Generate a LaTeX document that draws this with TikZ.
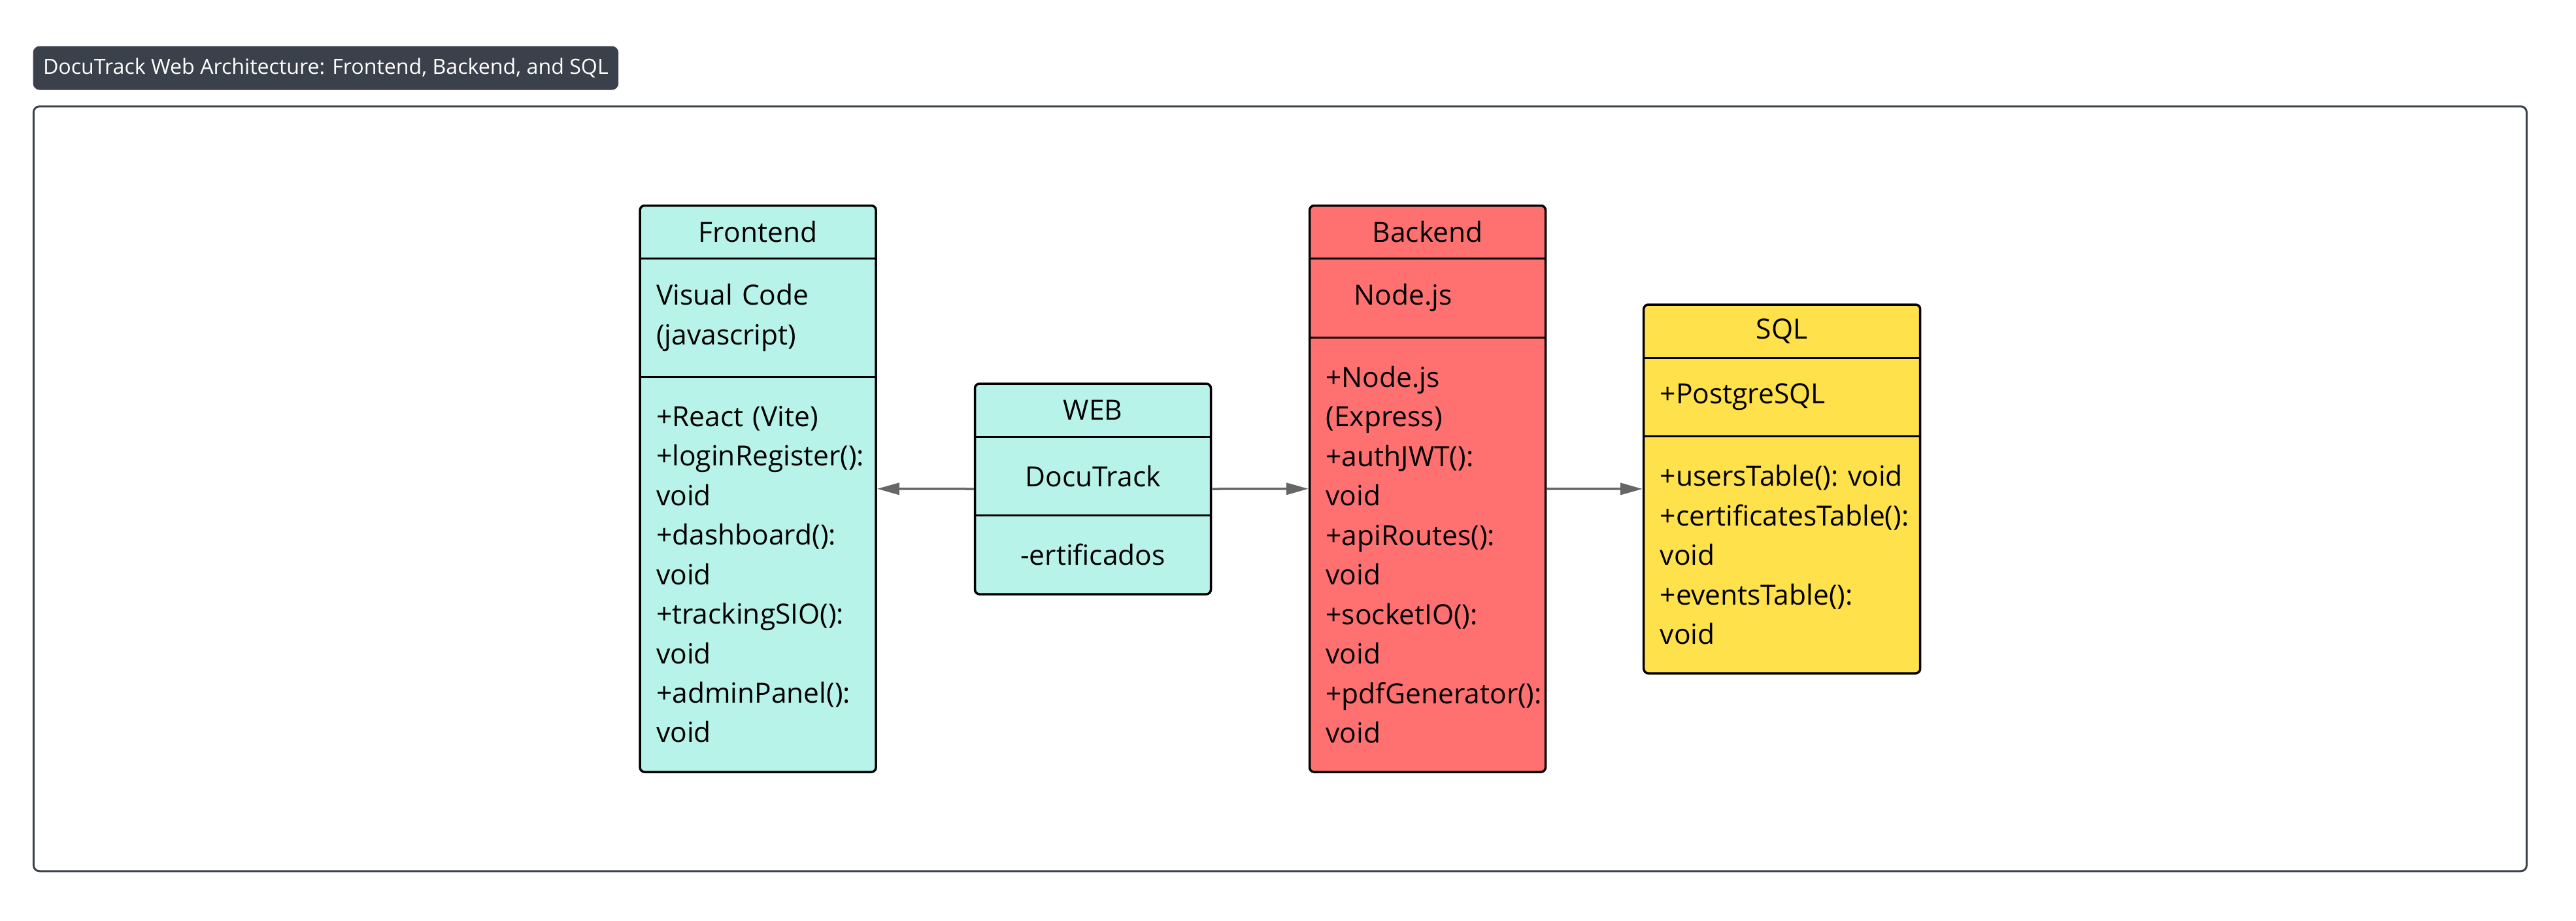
\documentclass[tikz,border=0pt]{standalone}
\usepackage{fontspec}
\setmainfont{Open Sans}
\usetikzlibrary{arrows.meta,positioning,fit,backgrounds}

\definecolor{webcyan}{HTML}{B8F3EA}
\definecolor{backred}{HTML}{FF7171}
\definecolor{sqlyellow}{HTML}{FFE14B}
\definecolor{slate}{HTML}{3B414B}
\definecolor{arrowgray}{HTML}{666666}

\tikzset{
  headpart/.style={minimum width=#1, minimum height=0.81cm, inner sep=0pt, outer sep=0pt, anchor=north},
  leftpart/.style={text width=#1, inner sep=0pt, outer sep=0pt, align=left},
  midpart/.style={text width=#1, inner sep=0pt, outer sep=0pt, align=center},
  classbox/.style={draw=black, line width=0.035cm, rounded corners=0.07cm, inner sep=0pt},
  divider/.style={draw=black, line width=0.03cm},
  flow/.style={draw=arrowgray, line width=0.035cm, -{Triangle[length=0.34cm,width=0.18cm]}}
}

\begin{document}
\begin{tikzpicture}[font=\fontsize{12.1pt}{17.2pt}\selectfont]
                \useasboundingbox (0,0) rectangle (39.41,-14.08);

                \node [headpart=3.61cm] (fe) at (11.596,-3.145) {Frontend};
                \node [leftpart=3.36cm, minimum height=1.81cm,
                        below left=0cm and 0cm of fe.south east]
                                        (fe-attr) {Visual~Code\\(javascript)};
                \node [leftpart=3.36cm, minimum height=6.045cm,
                        below left=0cm and 0cm of fe-attr.south east]
                                        (fe-ops) {+React~(Vite)\\+loginRegister():\\void\\+dashboard():\\void\\+trackingSIO():\\void\\+adminPanel():\\void};

                \node [headpart=3.61cm] (web) at (16.72,-5.87) {WEB};
                \node [midpart=3.11cm, minimum height=1.205cm,
                        below=0cm of web]
                                        (web-attr) {DocuTrack};
                \node [midpart=3.11cm, minimum height=1.205cm,
                        below=0cm of web-attr]
                                        (web-ops) {-ertificados};

                \node [headpart=3.61cm] (be) at (21.84,-3.145) {Backend};
                \node [leftpart=3.36cm, minimum height=1.205cm,
                        below left=0cm and 0cm of be.south east]
                                        (be-attr) {\hspace*{0.43cm}Node.js};
                \node [leftpart=3.36cm, minimum height=6.65cm,
                        below left=0cm and 0cm of be-attr.south east]
                                        (be-ops) {+Node.js\\(Express)\\+authJWT():\\void\\+apiRoutes():\\void\\+socketIO():\\void\\+pdfGenerator():\\void};

                \node [headpart=4.23cm] (sql) at (27.262,-4.66) {SQL};
                \node [leftpart=3.98cm, minimum height=1.205cm,
                        below left=0cm and 0cm of sql.south east]
                                        (sql-attr) {+PostgreSQL};
                \node [leftpart=3.98cm, minimum height=3.625cm,
                        below left=0cm and 0cm of sql-attr.south east]
                                        (sql-ops) {+usersTable():~void\\+certificatesTable():\\void\\+eventsTable():\\void};

                \begin{scope}[on background layer]
                \node [classbox, fill=webcyan, fit=(fe)(fe-attr)(fe-ops)] (fe-box) {};
                \node [classbox, fill=webcyan, fit=(web)(web-attr)(web-ops)] (web-box) {};
                \node [classbox, fill=backred, fit=(be)(be-attr)(be-ops)] (be-box) {};
                \node [classbox, fill=sqlyellow, fit=(sql)(sql-attr)(sql-ops)] (sql-box) {};
                \node [draw=slate, line width=0.03cm, rounded corners=0.09cm,
                        inner xsep=9.26cm, inner ysep=1.5cm,
                        fit=(fe-box)(web-box)(be-box)(sql-box)] (frame) {};
                \end{scope}

                \draw[divider] (fe.south west) -- (fe.south east);
                \draw[divider] (fe-attr.south -| fe.west) -- (fe-attr.south -| fe.east);
                \draw[divider] (web.south west) -- (web.south east);
                \draw[divider] (web-attr.south -| web.west) -- (web-attr.south -| web.east);
                \draw[divider] (be.south west) -- (be.south east);
                \draw[divider] (be-attr.south -| be.west) -- (be-attr.south -| be.east);
                \draw[divider] (sql.south west) -- (sql.south east);
                \draw[divider] (sql-attr.south -| sql.west) -- (sql-attr.south -| sql.east);

                \node [fill=slate, text=white, rounded corners=0.1cm,
                        minimum height=0.67cm, inner xsep=0.155cm, inner ysep=0pt,
                        font=\fontsize{9.15pt}{11pt}\selectfont,
                        above right=0.23cm and 0cm of frame.north west]
                                        (caption) {DocuTrack Web Architecture: Frontend, Backend, and SQL};

                \draw[flow] (web-box.west) -- (fe-box.east);
                \draw[flow] (web-box.east) -- (be-box.west);
                \draw[flow] (be-box.east) -- (sql-box.west);
            \end{tikzpicture}
\end{document}
